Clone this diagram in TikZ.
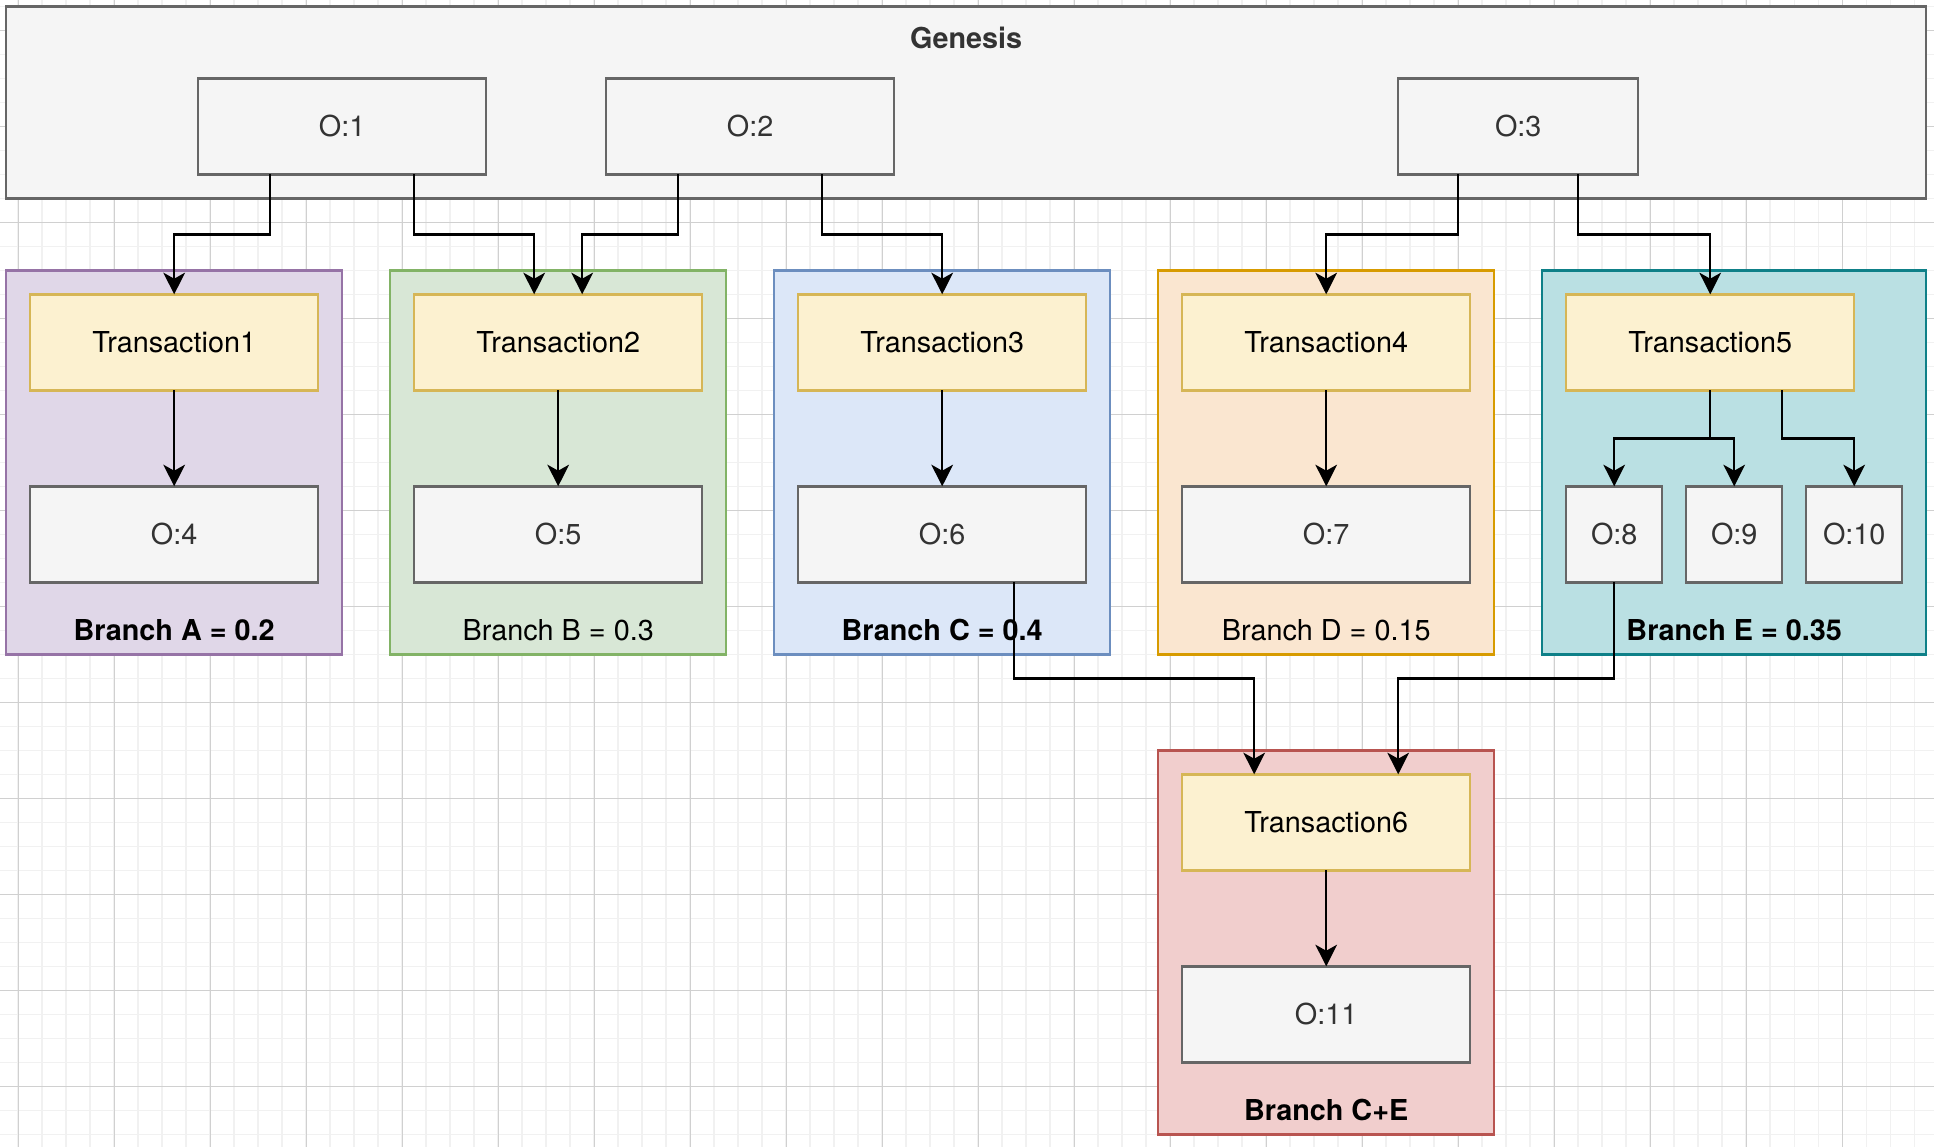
\documentclass[tikz,border=0pt]{standalone}
\usepackage{fontspec}
\setmainfont{TeX Gyre Heros}
\usetikzlibrary{arrows.meta}
\definecolor{grayfill}{HTML}{F5F5F5}
\definecolor{grayline}{HTML}{666666}
\definecolor{graytext}{HTML}{333333}
\definecolor{txfill}{HTML}{FCF1D0}
\definecolor{txline}{HTML}{D6B656}
\definecolor{afill}{HTML}{E0D7E8}
\definecolor{aline}{HTML}{9673A6}
\definecolor{bfill}{HTML}{D8E7D6}
\definecolor{bline}{HTML}{82B366}
\definecolor{cfill}{HTML}{DCE7F8}
\definecolor{cline}{HTML}{6C8EBF}
\definecolor{dfill}{HTML}{FAE6D0}
\definecolor{dline}{HTML}{D79B00}
\definecolor{efill}{HTML}{BAE0E3}
\definecolor{eline}{HTML}{0E8088}
\definecolor{cefill}{HTML}{F1CECD}
\definecolor{celine}{HTML}{B85450}
\definecolor{minorgrid}{RGB}{241,241,241}
\definecolor{majorgrid}{RGB}{208,208,208}
\begin{document}
\begin{tikzpicture}[x=1pt,y=-1pt,
  font=\fontsize{12}{14}\selectfont,
  every node/.style={inner sep=0pt,outer sep=0pt,line width=1pt},
  outbox/.style={draw=grayline,fill=grayfill,text=graytext,minimum width=120,minimum height=40},
  txbox/.style={draw=txline,fill=txfill,minimum width=120,minimum height=40},
  branch/.style={line width=1pt,minimum width=140,minimum height=160},
  arr/.style={line width=1pt,-{Stealth[length=9pt,width=9pt,inset=2.5pt]}}]
\useasboundingbox (-2.58,-2.63) rectangle (803.25,474.9);
% grid of the canvas
\begin{scope}
\clip (-2.58,-2.63) rectangle (803.25,474.9);
\fill[white] (-2.58,-2.63) rectangle (803.25,474.9);
\foreach \x in {-5,5,...,805} \draw[minorgrid,line width=0.6pt] (\x,-3) -- (\x,476);
\foreach \y in {0,10,...,470} \draw[minorgrid,line width=0.6pt] (-3,\y) -- (804,\y);
\foreach \x in {5,45,...,765} \draw[majorgrid,line width=0.45pt] (\x,-3) -- (\x,476);
\foreach \y in {10,50,...,450} \draw[majorgrid,line width=0.45pt] (-3,\y) -- (804,\y);
\end{scope}
% genesis
\node[draw=grayline,fill=grayfill,minimum width=800,minimum height=80] (gen) at (400,40) {};
\node[text=graytext,font=\fontsize{12}{14}\selectfont\bfseries] (gent) at (400,13) {Genesis};
\node[outbox] (o1) at (140,50) {O:1};
\node[outbox] (o2) at (310,50) {O:2};
\node[outbox,minimum width=100] (o3) at (630,50) {O:3};
% branches
\node[branch,draw=aline,fill=afill] (ba) at (70,190) {};
\node[branch,draw=bline,fill=bfill] (bb) at (230,190) {};
\node[branch,draw=cline,fill=cfill] (bc) at (390,190) {};
\node[branch,draw=dline,fill=dfill] (bd) at (550,190) {};
\node[branch,draw=eline,fill=efill,minimum width=160] (be) at (720,190) {};
\node[branch,draw=celine,fill=cefill] (bce) at (550,390) {};
\node[txbox] (t1) at (70,140) {Transaction1};
\node[txbox] (t2) at (230,140) {Transaction2};
\node[txbox] (t3) at (390,140) {Transaction3};
\node[txbox] (t4) at (550,140) {Transaction4};
\node[txbox] (t5) at (710,140) {Transaction5};
\node[txbox] (t6) at (550,340) {Transaction6};
\node[outbox] (o4) at (70,220) {O:4};
\node[outbox] (o5) at (230,220) {O:5};
\node[outbox] (o6) at (390,220) {O:6};
\node[outbox] (o7) at (550,220) {O:7};
\node[outbox,minimum width=40] (o8) at (670,220) {O:8};
\node[outbox,minimum width=40] (o9) at (720,220) {O:9};
\node[outbox,minimum width=40] (o10) at (770,220) {O:10};
\node[outbox] (o11) at (550,420) {O:11};
\node (la) at (70,260) {\bfseries Branch A = 0.2};
\node (lb) at (230,260) {Branch B = 0.3};
\node (lc) at (390,260) {\bfseries Branch C = 0.4};
\node (ld) at (550,260) {Branch D = 0.15};
\node (le) at (720,260) {\bfseries Branch E = 0.35};
\node (lce) at (550,460) {\bfseries Branch C+E};
% spending
\draw[arr] ([xshift=-30]o1.south) -- ++(0,25) -| (t1.north);
\draw[arr] ([xshift=30]o1.south) -- ++(0,25) -| ([xshift=-10]t2.north);
\draw[arr] ([xshift=-30]o2.south) -- ++(0,25) -| ([xshift=10]t2.north);
\draw[arr] ([xshift=30]o2.south) -- ++(0,25) -| (t3.north);
\draw[arr] ([xshift=-25]o3.south) -- ++(0,25) -| (t4.north);
\draw[arr] ([xshift=25]o3.south) -- ++(0,25) -| (t5.north);
\draw[arr] (t1) -- (o4);
\draw[arr] (t2) -- (o5);
\draw[arr] (t3) -- (o6);
\draw[arr] (t4) -- (o7);
\draw[arr] (t6) -- (o11);
\draw[arr] (t5.south) -- ++(0,20) -| (o8.north);
\draw[arr] (t5.south) -- ++(0,20) -| (o9.north);
\draw[arr] ([xshift=30]t5.south) -- ++(0,20) -| (o10.north);
\draw[arr] ([xshift=30]o6.south) -- ++(0,40) -| ([xshift=-30]t6.north);
\draw[arr] (o8.south) -- ++(0,40) -| ([xshift=30]t6.north);
\end{tikzpicture}
\end{document}
